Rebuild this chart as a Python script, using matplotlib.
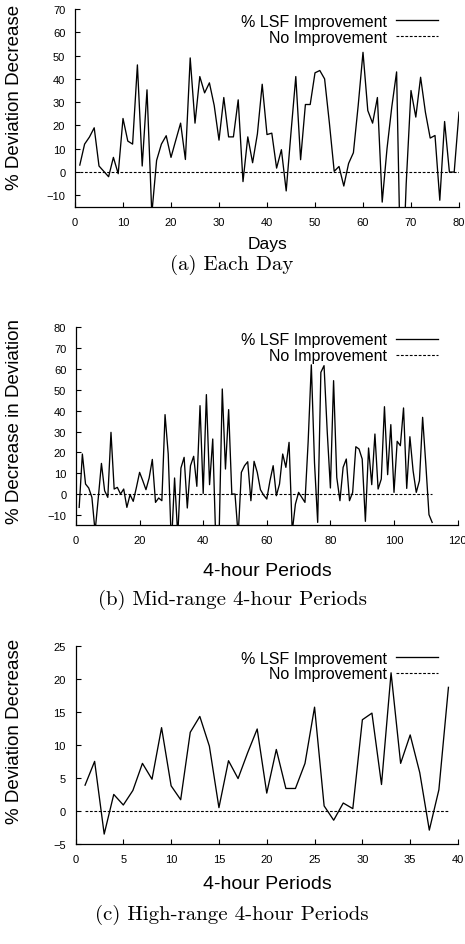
import numpy as np
import matplotlib
matplotlib.use("Agg")
import matplotlib.pyplot as plt

plt.rcParams['font.family'] = ['Liberation Sans', 'DejaVu Sans']

# (a) each day
days = np.arange(1, 81)
dev_day = [3, 12, 15, 19, 2.6, 0.3, -2, 6.3, -0.7, 23,
           13.3, 12, 46, 2.6, 35.3, -18, 5, 12, 15.6, 6.3,
           13.7, 21, 5.4, 49, 21, 41, 34, 38.3, 28.6, 13.7,
           32, 15.1, 15.1, 31, -4.1, 15.1, 4, 16.4, 37.7, 16.1,
           16.7, 1.7, 9.6, -8.1, 17, 41, 5.3, 29, 29, 42.6,
           43.6, 40, 21, 0.3, 2.4, -6, 3.7, 8.3, 28.6, 51.4,
           26.4, 21, 32, -12.9, 10, 28, 43, -60, -5, 35,
           23.6, 40.7, 25.7, 14.6, 15.7, -12.1, 21.7, 0, 0, 25.7]

# (b) mid-range 4-hour periods
periods_mid = np.arange(1, 113)
dev_mid = [-6.4, 19.2, 4.8, 2.9, -1.6, -18, -2, 14.7, 1.6, -1.6,
           29.6, 2.4, 3.2, 0, 2.4, -6.4, -0.3, -3.5, 3.2, 10.4,
           6.4, 2.1, 7.7, 16.6, -4, -1.9, -3.2, 38.1, 19.2, -25,
           7.7, -20, 12.5, 17.6, -6.7, 13.6, 18.1, 3.7, 42.4, 0.3,
           47.7, 4.5, 26.4, -25, -20, 50.4, 12, 40.5, 0, 0,
           -20, 10.4, 13.6, 15.5, -3.2, 15.7, 10.4, 2.1, -0.5, -2.4,
           6.4, 13.6, -0.8, 4.8, 19.2, 12.8, 24.8, -18, -4.8, 0.8,
           -1.6, -4, 25, 62, 15, -13.6, 58.4, 61.6, 30, 2.9,
           54.4, 8, -3.2, 12.8, 16.8, -3.2, 0.8, 22.7, 21.6, 16.8,
           -13.1, 22.1, 4.5, 28.8, 2.4, 7.2, 41.9, 9.3, 33.3, 0.8,
           25.3, 23.2, 41.3, 2.7, 27.5, 11.2, 0.8, 6.4, 36.8, 14.4,
           -9.9, -13.6]

# (c) high-range 4-hour periods
periods_high = np.arange(1, 40)
dev_high = [3.9, 7.5, -3.5, 2.5, 0.9, 3.1, 7.2, 4.8, 12.6, 3.8,
            1.7, 11.9, 14.3, 9.8, 0.5, 7.6, 4.9, 8.8, 12.4, 2.7,
            9.3, 3.4, 3.4, 7.2, 15.7, 0.76, -1.4, 1.2, 0.35, 13.8,
            14.8, 4.0, 20.9, 7.2, 11.5, 5.8, -2.9, 3.2, 18.7]

W, H = 465, 945
fig = plt.figure(figsize=(W / 100, H / 100), dpi=100)


def px_axes(left, right, top, bottom):
    # axes box given in pixels from the top-left corner
    return fig.add_axes([left / W, 1 - bottom / H, (right - left) / W, (bottom - top) / H])


panels = [
    dict(box=(75, 459, 10, 208), x=days, y=dev_day, xlim=(0, 80), xt=range(0, 81, 10),
         ylim=(-15, 70), yt=range(-10, 71, 10), xlabel="Days", xl_y=245, xl_size=12.5,
         ylabel="% Deviation Decrease", yl_y=97, caption="(a) Each Day", cap_y=265),
    dict(box=(76, 457.6, 328.3, 526.3), x=periods_mid, y=dev_mid, xlim=(0, 120),
         xt=range(0, 121, 20), ylim=(-15, 80), yt=range(-10, 81, 10),
         xlabel="4-hour Periods", xl_y=572, xl_size=14,
         ylabel="% Decrease in Deviation", yl_y=422,
         caption="(b) Mid-range 4-hour Periods", cap_y=600),
    dict(box=(75.5, 458, 646.7, 845), x=periods_high, y=dev_high, xlim=(0, 40),
         xt=range(0, 41, 5), ylim=(-5, 25), yt=range(-5, 26, 5),
         xlabel="4-hour Periods", xl_y=885, xl_size=14,
         ylabel="% Deviation Decrease", yl_y=731,
         caption="(c) High-range 4-hour Periods", cap_y=915),
]

for p in panels:
    ax = px_axes(*p["box"])
    ax.plot(p["x"], p["y"], color="black", lw=0.95, label="% LSF Improvement")
    ax.plot(p["x"], np.zeros(len(p["x"])), color="black", lw=0.8,
            ls=(0, (2.5, 1.5)), label="No Improvement")
    ax.set_xlim(*p["xlim"])
    ax.set_ylim(*p["ylim"])
    ax.set_xticks(list(p["xt"]))
    ax.set_yticks(list(p["yt"]))
    for s in ["top", "right"]:
        ax.spines[s].set_visible(False)
    ax.spines["left"].set_linewidth(0.9)
    ax.spines["bottom"].set_linewidth(0.9)
    ax.tick_params(direction="in", length=3.5, width=0.8, labelsize=8,
                   colors="black", pad=7)
    for lbl in ax.get_xticklabels():
        lbl.set_clip_on(False)
    l, r, t, b = p["box"]
    # axis titles placed where the reference has them
    fig.text(267 / W, 1 - p["xl_y"] / H, p["xlabel"], fontsize=p["xl_size"],
             ha="center", va="center")
    fig.text(15 / W, 1 - p["yl_y"] / H, p["ylabel"], fontsize=13.5,
             ha="center", va="center", rotation=90)
    ax.legend(loc="upper right", bbox_to_anchor=(438 / W, 1 - (t + 5) / H),
              bbox_transform=fig.transFigure, frameon=False, markerfirst=False,
              alignment="right", fontsize=11.5, handlelength=2.6, handletextpad=0.6,
              labelspacing=0.05, borderpad=0, borderaxespad=0)
    fig.text(232 / W, 1 - p["cap_y"] / H, p["caption"], family="cmr10",
             fontsize=15, ha="center", va="center")

fig.savefig("out.png", dpi=100)
